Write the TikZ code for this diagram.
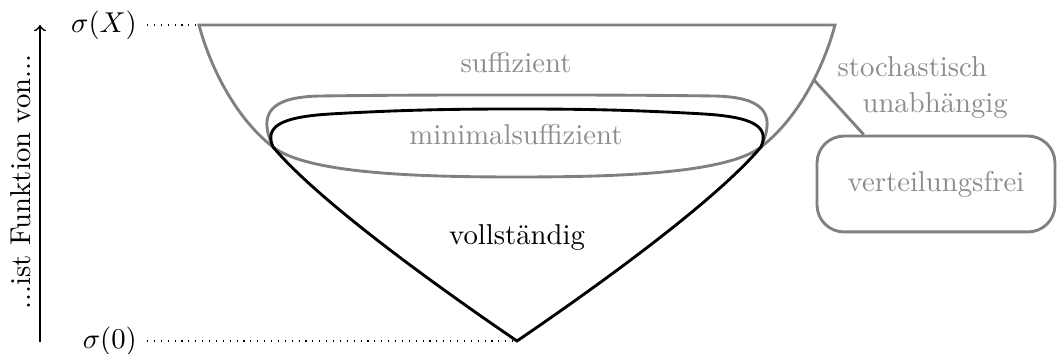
\documentclass[tikz,border=0pt]{standalone}
\usetikzlibrary{calc}
\begin{document}
\begin{tikzpicture}[x=0.3484pt,y=-0.3484pt,
  gl/.style={draw=black!50, line width=1pt},
  bl/.style={draw=black, line width=1pt},
  gtxt/.style={text=black!45, inner sep=0pt, anchor=base},
  btxt/.style={text=black, inner sep=0pt, anchor=base},
  boxnode/.style={draw=black!50, line width=1pt, rounded corners=9.4pt,
    minimum width=82.9pt, minimum height=33.4pt, text=black!45, inner sep=0pt}]
\useasboundingbox (0,0) rectangle (1057,354);
\coordinate (TL) at (199,25);
\coordinate (TR) at (835,25);
\coordinate (A) at (273,147);
\coordinate (B) at (761,147);
\coordinate (V) at (517,341);
\coordinate (br) at (814,80);
% bowl (suffizient)
\draw[gl] (A) .. controls (233.5,116.5) and (209,63) .. (TL) -- (TR)
  .. controls (825,63) and (800.5,116.5) .. (B)
  .. controls (726,174) and (614,177) .. (517,177)
  .. controls (420,177) and (308,174) .. (A);
% minimalsuffizient top arc
\draw[gl] (A) .. controls (257,112) and (272,97) .. (320,96)
  .. controls (400,95) and (450,95) .. (517,95)
  .. controls (584,95) and (634,95) .. (714,96)
  .. controls (762,97) and (777,112) .. (B);
% vollstaendig
\draw[bl] (A) .. controls (264,126) and (282,117) .. (330,114)
  .. controls (400,110) and (450,109) .. (517,109)
  .. controls (584,109) and (634,110) .. (704,114)
  .. controls (752,117) and (770,126) .. (B)
  .. controls (712,205) and (583,296) .. (V)
  .. controls (451,296) and (322,205) .. (A);
% texts
\node[gtxt] (suff) at (516,73) {suffizient};
\node[gtxt] (minsuff) at (516,145) {minimalsuffizient};
\node[btxt] (voll) at (517,245) {vollständig};
\node[gtxt, anchor=base west] (stoch) at (837,77) {stochastisch};
\node[gtxt, anchor=base west] (unab) at (862,113) {unabhängig};
\node[boxnode] (vf) at (936,184) {verteilungsfrei};
\draw[gl] (br) -- ($(vf.north west)!0.2!(vf.north east)$);
% axis
\coordinate (ab) at (40,342);
\coordinate (at) at (40,25);
\draw[->, semithick] (ab) -- (at);
\node[rotate=90, anchor=base, inner sep=0pt] (lbl) at (31,182) {...ist Funktion von...};
\node[anchor=east] (sx) at (147,25) {$\sigma(X)$};
\node[anchor=east] (s0) at (147,341) {$\sigma(0)$};
\draw[dotted] (sx.east) -- (TL);
\draw[dotted] (s0.east) -- (V);
\end{tikzpicture}
\end{document}
